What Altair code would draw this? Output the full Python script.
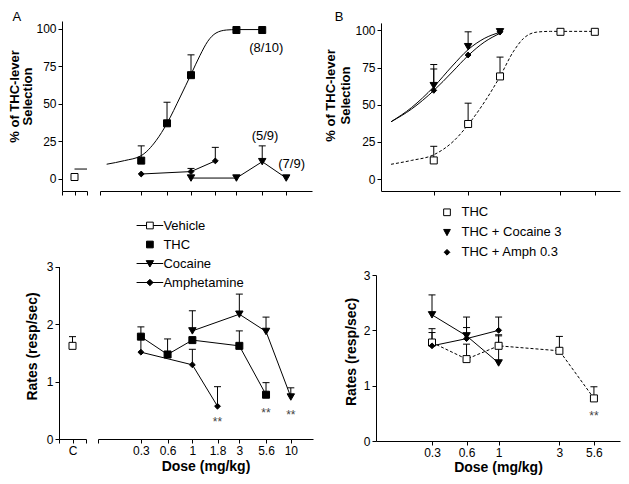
import altair as alt
import pandas as pd

FONT = "Liberation Sans"

# ---------------- data ----------------
doseA_ticks = [0.3, 0.56, 1, 1.8, 3, 5.6, 10]
doseB_ticks = [0.3, 0.56, 1, 3, 5.6]

# Panel A, top: % of THC-lever selection
topA_thc_dose = [0.3, 0.56, 1, 3, 5.6]
topA_thc_pct = [12.2, 37, 69, 99, 99]
topA_thc_up = [22, 51, 82.5, None, None]
topA_coc_dose = [1, 3, 5.6, 10]
topA_coc_pct = [0.6, 0.6, 11.5, 0.6]
topA_coc_up = [None, None, 22, None]
topA_amp_dose = [0.3, 1, 1.8]
topA_amp_pct = [3.3, 4.9, 12]
topA_amp_up = [None, 7, 21]
topA_veh_pct = [1.3]
topA_veh_line = [6.6]
topA_fit_dose = [0.13, 0.2, 0.3, 0.43, 0.56, 0.77, 1.0, 1.24, 1.5, 1.83, 2.35, 3.0, 5.6]
topA_fit_pct = [9.8, 12.2, 15.5, 25.5, 37, 54.5, 69.5, 82, 91.5, 97, 99, 99.3, 99.3]
topA_note_text = ["(8/10)", "(5/9)", "(7/9)"]
topA_note_dose = [6.17, 5.99, 11.4]
topA_note_pct = [86.8, 28.6, 10]

# Panel B, top
topB_thc_dose = [0.3, 0.56, 1, 3, 5.6]
topB_thc_pct = [12.5, 37, 69, 99, 99]
topB_thc_up = [22, 51, 82, None, None]
topB_coc_dose = [0.3, 0.56, 1]
topB_coc_pct = [62.8, 89, 99]
topB_coc_up = [77, 99, None]
topB_amp_dose = [0.3, 0.56, 1]
topB_amp_pct = [59.6, 83.4, 99]
topB_amp_up = [74, None, None]
topB_fit_thc_dose = [0.138, 0.2, 0.3, 0.43, 0.56, 0.77, 1.0, 1.27, 1.53, 1.95, 2.5, 3.0, 5.6]
topB_fit_thc_pct = [9.9, 12.5, 16.3, 25.5, 36.5, 53, 69, 85.5, 94.5, 98.8, 99.3, 99.3, 99.3]
topB_fit_coc_dose = [0.138, 0.2, 0.3, 0.42, 0.56, 0.75, 1.0]
topB_fit_coc_pct = [38.5, 48, 62, 76, 87, 94.5, 98.7]
topB_fit_amp_dose = [0.138, 0.2, 0.3, 0.42, 0.56, 0.75, 1.0]
topB_fit_amp_pct = [38.5, 47, 59.5, 72, 83, 92, 98]

# Panel A, bottom: response rates
botA_veh_rate = [1.62]
botA_veh_up = [1.78]
botA_thc_dose = [0.3, 0.56, 1, 3, 5.6]
botA_thc_rate = [1.78, 1.47, 1.72, 1.62, 0.77]
botA_thc_up = [1.95, 1.74, None, 1.88, 0.98]
botA_coc_dose = [1, 3, 5.6, 10]
botA_coc_rate = [1.88, 2.17, 1.87, 0.73]
botA_coc_up = [2.23, 2.52, 2.12, 0.89]
botA_amp_dose = [0.3, 1, 1.8]
botA_amp_rate = [1.51, 1.29, 0.57]
botA_amp_up = [1.8, 1.56, 0.91]
botA_star_dose = [1.8, 5.6, 10]
botA_star_rate = [0.30, 0.455, 0.41]

# Panel B, bottom
botB_thc_dose = [0.3, 0.56, 1, 3, 5.6]
botB_thc_rate = [1.78, 1.48, 1.72, 1.63, 0.77]
botB_thc_up = [1.96, 1.75, 1.92, 1.89, 0.98]
botB_coc_dose = [0.3, 0.56, 1]
botB_coc_rate = [2.28, 1.90, 1.41]
botB_coc_up = [2.64, 2.24, 1.9]
botB_amp_dose = [0.3, 0.56, 1]
botB_amp_rate = [1.72, 1.85, 2.00]
botB_amp_up = [2.03, 2.05, 2.24]
botB_star_dose = [5.6]
botB_star_rate = [0.45]

legendA_names = ["Vehicle", "THC", "Cocaine", "Amphetamine"]
legendB_names = ["THC", "THC + Cocaine 3", "THC + Amph 0.3"]

# ---------------- styling ----------------
W, H = 613, 468
SQ, TRI, DIA = 49, 55, 34
DASH = [3, 2]

legendA_paths = [
    "M-3.97,0H-1M1,0H3.97M-1,-1H1V1H-1Z",
    "M-1,-1H1V1H-1Z",
    "M-3.97,0H3.97M-1.1,-0.85L1.1,-0.85L0,1.05Z",
    "M-3.97,0H3.97M0,-0.95L0.95,0L0,0.95L-0.95,0Z",
]
legendA_fill = ["white", "black", "black", "black"]
legendB_paths = ["M-1,-1H1V1H-1Z", "M-1,-0.85L1,-0.85L0,1Z", "M0,-0.85L0.85,0L0,0.85L-0.85,0Z"]
legendB_fill = ["white", "black", "black"]

AX = dict(domainColor="black", domainWidth=1, tickColor="black", tickWidth=1,
          labelColor="black", labelFont=FONT, labelFontSize=12, titleFont=FONT,
          titleColor="black", grid=False, labelFlush=False, labelOverlap=False,
          tickSize=4, labelPadding=2)


def axis(**kw):
    d = dict(AX)
    d.update(kw)
    return alt.Axis(**d)


def lin(dom, rng):
    return alt.Scale(type="linear", domain=dom, range=rng, nice=False, zero=False)


def log(dom, rng):
    return alt.Scale(type="log", domain=dom, range=rng, nice=False)


ys_topA = lin([-8, 105], [183, 13])
ys_topB = lin([-8, 105], [182.9, 14.9])
ys_botA = lin([0, 3], [431, 258.5])
ys_botB = lin([0, 3], [433, 267])

P = {
    "topC": dict(xs=lin([0, 2], [54, 79]), ys=ys_topA,
                 xa=axis(orient="bottom", offset=-285, values=[0, 1, 2], labels=False, title=None),
                 ya=axis(orient="left", offset=-54, values=[0, 25, 50, 75, 100],
                         title=["% of THC-lever", "Selection"], titleFontSize=13,
                         titleFontWeight="bold", titlePadding=1, titleLineHeight=13, titleY=88)),
    "topA": dict(xs=log([0.1107, 18.66], [92, 304]), ys=ys_topA,
                 xa=axis(orient="bottom", offset=-285, values=[0.111] + doseA_ticks,
                         labels=False, title=None),
                 ya=None),
    "topB": dict(xs=log([0.115, 8.85], [373, 612]), ys=ys_topB,
                 xa=axis(orient="bottom", offset=-285, values=doseB_ticks, labels=False, title=None),
                 ya=axis(orient="left", offset=-373, values=[0, 25, 50, 75, 100],
                         title=["% of THC-lever", "Selection"], titleFontSize=13,
                         titleFontWeight="bold", titlePadding=2, titleLineHeight=15, titleY=87)),
    "botC": dict(xs=lin([0, 2], [51, 78]), ys=ys_botA,
                 xa=axis(orient="bottom", offset=-37, values=[0, 1, 2],
                         labelExpr="datum.value == 1 ? 'C' : ''", title=None),
                 ya=axis(orient="left", offset=-51, values=[0, 1, 2, 3],
                         title="Rates (resp/sec)", titleFontSize=14, titleFontWeight="bold",
                         titlePadding=7, titleY=338)),
    "botA": dict(xs=log([0.110, 16.8], [90, 305]), ys=ys_botA,
                 xa=axis(orient="bottom", offset=-37, values=[0.1105] + doseA_ticks,
                         labelExpr="datum.value < 0.2 ? '' : format(datum.value, '.1~f')",
                         title="Dose (mg/kg)", titleFontSize=14, titleFontWeight="bold",
                         titlePadding=3),
                 ya=None),
    "botB": dict(xs=log([0.109, 8.97], [368, 612]), ys=ys_botB,
                 xa=axis(orient="bottom", offset=-35, values=doseB_ticks,
                         labelExpr="format(datum.value, '.1~f')",
                         title="Dose (mg/kg)", titleFontSize=14, titleFontWeight="bold",
                         titlePadding=2.5),
                 ya=axis(orient="left", offset=-368, values=[0, 1, 2, 3],
                         title="Rates (resp/sec)", titleFontSize=14, titleFontWeight="bold",
                         titlePadding=4.4, titleY=343.5)),
}
axes_done = set()
layers = []


def enc(pname, xf="dose", yf="val"):
    p = P[pname]
    first = pname not in axes_done
    axes_done.add(pname)
    return dict(
        x=alt.X(xf, type="quantitative", scale=p["xs"], axis=p["xa"] if first else None),
        y=alt.Y(yf, type="quantitative", scale=p["ys"], axis=p["ya"] if first else None),
    )


def line(pname, dose, val, dash=None, smooth=False):
    kw = dict(color="black", strokeWidth=1)
    if dash:
        kw["strokeDash"] = dash
    if smooth:
        kw["interpolate"] = "monotone"
    df = pd.DataFrame({"dose": dose, "val": val})
    layers.append(alt.Chart(df).mark_line(**kw).encode(**enc(pname)))


def errbars(pname, dose, val, up):
    rows = [(d, v, u) for d, v, u in zip(dose, val, up) if u is not None]
    df = pd.DataFrame(rows, columns=["dose", "val", "up"])
    e = enc(pname)
    layers.append(alt.Chart(df).mark_rule(color="black", strokeWidth=1).encode(
        x=e["x"], y=e["y"], y2=alt.Y2("up")))
    e2 = enc(pname, yf="up")
    layers.append(alt.Chart(df).mark_point(shape="M-1,0H1", size=49, filled=False,
                                           stroke="black", strokeWidth=1, opacity=1).encode(**e2))


def points(pname, dose, val, shape, fill, size):
    df = pd.DataFrame({"dose": dose, "val": val})
    layers.append(alt.Chart(df).mark_point(shape=shape, filled=True, fill=fill, stroke="black",
                                           strokeWidth=1, size=size, opacity=1).encode(**enc(pname)))


def texts(pname, dose, val, labels, size=12, color="black", baseline="middle"):
    df = pd.DataFrame({"dose": dose, "val": val, "label": labels})
    layers.append(alt.Chart(df).mark_text(font=FONT, fontSize=size, fill=color, align="center",
                                          baseline=baseline).encode(text="label:N", **enc(pname)))


# ---- top A: vehicle (C) ----
points("topC", [1], topA_veh_pct, "square", "white", SQ)
layers.append(alt.Chart(pd.DataFrame({"dose": [1], "d2": [2], "val": topA_veh_line}))
              .mark_rule(color="black", strokeWidth=1)
              .encode(x2=alt.X2("d2"), **enc("topC")))
texts("topC", [-3.62], [111.9], ["A"], size=13, baseline="top")

# ---- top A main ----
line("topA", topA_fit_dose, topA_fit_pct, smooth=True)
line("topA", topA_coc_dose, topA_coc_pct)
line("topA", topA_amp_dose, topA_amp_pct)
errbars("topA", topA_thc_dose, topA_thc_pct, topA_thc_up)
errbars("topA", topA_coc_dose, topA_coc_pct, topA_coc_up)
errbars("topA", topA_amp_dose, topA_amp_pct, topA_amp_up)
points("topA", topA_thc_dose, topA_thc_pct, "square", "black", SQ)
points("topA", topA_coc_dose, topA_coc_pct, "triangle-down", "black", TRI)
points("topA", topA_amp_dose, topA_amp_pct, "diamond", "black", DIA)
texts("topA", topA_note_dose, topA_note_pct, topA_note_text, size=13)

# ---- top B ----
line("topB", topB_fit_thc_dose, topB_fit_thc_pct, dash=DASH, smooth=True)
line("topB", topB_fit_coc_dose, topB_fit_coc_pct, smooth=True)
line("topB", topB_fit_amp_dose, topB_fit_amp_pct, smooth=True)
errbars("topB", topB_thc_dose, topB_thc_pct, topB_thc_up)
errbars("topB", topB_coc_dose, topB_coc_pct, topB_coc_up)
errbars("topB", topB_amp_dose, topB_amp_pct, topB_amp_up)
points("topB", topB_thc_dose, topB_thc_pct, "square", "white", SQ)
points("topB", topB_amp_dose, topB_amp_pct, "diamond", "black", DIA)
points("topB", topB_coc_dose, topB_coc_pct, "triangle-down", "black", TRI)
texts("topB", [0.0536], [113.3], ["B"], size=13, baseline="top")

# ---- bottom A: vehicle (C) ----
errbars("botC", [1], botA_veh_rate, botA_veh_up)
points("botC", [1], botA_veh_rate, "square", "white", SQ)

# ---- bottom A main ----
line("botA", botA_thc_dose, botA_thc_rate)
line("botA", botA_coc_dose, botA_coc_rate)
line("botA", botA_amp_dose, botA_amp_rate)
errbars("botA", botA_thc_dose, botA_thc_rate, botA_thc_up)
errbars("botA", botA_coc_dose, botA_coc_rate, botA_coc_up)
errbars("botA", botA_amp_dose, botA_amp_rate, botA_amp_up)
points("botA", botA_amp_dose, botA_amp_rate, "diamond", "black", DIA)
points("botA", botA_thc_dose, botA_thc_rate, "square", "black", SQ)
points("botA", botA_coc_dose, botA_coc_rate, "triangle-down", "black", TRI)
texts("botA", botA_star_dose, botA_star_rate, ["**"] * len(botA_star_dose), size=12, color="#444444")

# ---- bottom B ----
line("botB", botB_thc_dose, botB_thc_rate, dash=DASH)
line("botB", botB_coc_dose, botB_coc_rate)
line("botB", botB_amp_dose, botB_amp_rate)
errbars("botB", botB_thc_dose, botB_thc_rate, botB_thc_up)
errbars("botB", botB_coc_dose, botB_coc_rate, botB_coc_up)
errbars("botB", botB_amp_dose, botB_amp_rate, botB_amp_up)
points("botB", botB_thc_dose, botB_thc_rate, "square", "white", SQ)
points("botB", botB_amp_dose, botB_amp_rate, "diamond", "black", DIA)
points("botB", botB_coc_dose, botB_coc_rate, "triangle-down", "black", TRI)
texts("botB", botB_star_dose, botB_star_rate, ["**"], size=12, color="#444444")


# ---- legends ----
def legend_layer(names, paths, fills, lx, ly, size, offset, rowpad):
    lg = alt.Legend(orient="none", legendX=lx, legendY=ly, title=None, labelFont=FONT,
                    labelFontSize=13, labelColor="black", labelOffset=offset, rowPadding=rowpad,
                    padding=0, symbolSize=size, symbolStrokeWidth=1, symbolOpacity=1,
                    labelLimit=0)
    df = pd.DataFrame({"series": names})
    return (alt.Chart(df).transform_filter("false")
            .mark_point(filled=True, size=size, opacity=1, strokeWidth=1)
            .encode(shape=alt.Shape("series:N", scale=alt.Scale(domain=names, range=paths), legend=lg),
                    fill=alt.Fill("series:N", scale=alt.Scale(domain=names, range=fills), legend=lg),
                    stroke=alt.Stroke("series:N",
                                      scale=alt.Scale(domain=names, range=["black"] * len(names)),
                                      legend=lg)))


layers.append(legend_layer(legendA_names, legendA_paths, legendA_fill, 135.4, 211, 45, 7, 5))
layers.append(legend_layer(legendB_names, legendB_paths, legendB_fill, 432.5, 197.8, 45, 8, 6))

chart = (alt.layer(*layers)
         .resolve_scale(x="independent", y="independent", shape="independent",
                        fill="independent", stroke="independent")
         .properties(width=W, height=H, autosize=alt.AutoSizeParams(type="none"), padding=0,
                     background="white")
         .configure_view(stroke=None))

chart.save("out.html", embed_options={"renderer": "svg", "actions": False})
